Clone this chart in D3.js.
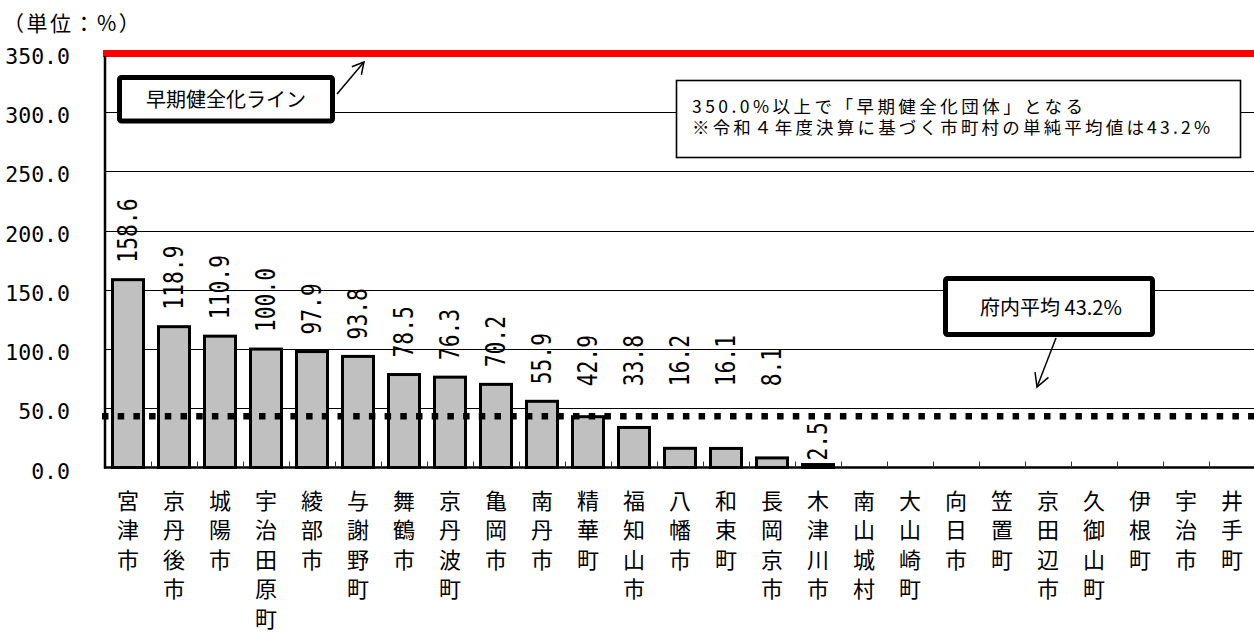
<!DOCTYPE html>
<html lang="ja">
<head>
<meta charset="utf-8">
<script src="https://cdn.jsdelivr.net/npm/d3@7"></script>
<style>
  html, body { margin: 0; padding: 0; background: #fff; }
  svg { display: block; }
</style>
</head>
<body>
<svg id="chart" width="1254" height="632"></svg>
<script>
// 将来負担比率（令和４年度決算）市町村別
const names = ["宮津市", "京丹後市", "城陽市", "宇治田原町", "綾部市", "与謝野町", "舞鶴市", "京丹波町", "亀岡市", "南丹市", "精華町", "福知山市", "八幡市", "和束町", "長岡京市", "木津川市", "南山城村", "大山崎町", "向日市", "笠置町", "京田辺市", "久御山町", "伊根町", "宇治市", "井手町"];
const values = [158.6, 118.9, 110.9, 100.0, 97.9, 93.8, 78.5, 76.3, 70.2, 55.9, 42.9, 33.8, 16.2, 16.1, 8.1, 2.5, 0, 0, 0, 0, 0, 0, 0, 0, 0];
const yTicks = [0, 50, 100, 150, 200, 250, 300, 350];
const earlyLine = 350;     // 早期健全化基準
const prefAverage = 43.2;  // 府内平均

const unitLabel = "（単位：%）";
const earlyLabel = "早期健全化ライン";
const noteLines = ["350.0%以上で「早期健全化団体」となる", "※令和４年度決算に基づく市町村の単純平均値は43.2%"];
const avgLabel = "府内平均 43.2%";

const svg = d3.select("#chart");
const plotLeft = 105, plotRight = 1255, plotTop = 53, plotBottom = 467.5;

const x = d3.scaleBand().domain(names).range([plotLeft, plotRight])
  .paddingInner(0.326).paddingOuter(0.163);
const y = d3.scaleLinear().domain([0, 350]).range([plotBottom, plotTop]);

// 目盛線
svg.append("g")
  .selectAll("line")
  .data(yTicks.filter(t => t > 0 && t < earlyLine))
  .join("line")
  .attr("x1", plotLeft).attr("x2", 1254)
  .attr("y1", d => Math.round(y(d)) + 0.5).attr("y2", d => Math.round(y(d)) + 0.5)
  .attr("stroke", "#000").attr("stroke-width", 1);

// Y軸ラベル
svg.append("g")
  .selectAll("text")
  .data(yTicks)
  .join("text")
  .attr("x", 70).attr("y", d => y(d) + 11)
  .attr("text-anchor", "end")
  .attr("font-family", "DejaVu Sans Mono")
  .attr("font-size", 21.5)
  .attr("fill", "#000")
  .text(d => d3.format(".1f")(d));

// 単位
svg.append("text")
  .attr("x", 3).attr("y", 31)
  .attr("font-family", "Noto Sans CJK JP")
  .attr("font-size", 21)
  .attr("letter-spacing", 2.5)
  .text(unitLabel);

const rows = names.map((n, i) => ({ name: n, value: values[i] })).filter(d => d.value > 0);

// 棒
svg.append("g")
  .selectAll("rect")
  .data(rows)
  .join("rect")
  .attr("x", d => x(d.name))
  .attr("y", d => y(d.value))
  .attr("width", x.bandwidth())
  .attr("height", d => plotBottom - y(d.value))
  .attr("fill", "#c0c0c0")
  .attr("stroke", "#000")
  .attr("stroke-width", 3);

// 府内平均（点線）
svg.append("line")
  .attr("x1", 102).attr("x2", 1254)
  .attr("y1", y(prefAverage)).attr("y2", y(prefAverage))
  .attr("stroke", "#000").attr("stroke-width", 6.5)
  .attr("stroke-dasharray", "6.5,9.2");

// 早期健全化ライン（赤線）
svg.append("line")
  .attr("x1", 103).attr("x2", 1254)
  .attr("y1", y(earlyLine) + 0.5).attr("y2", y(earlyLine) + 0.5)
  .attr("stroke", "#ff0000").attr("stroke-width", 7);

// 軸線
svg.append("line")
  .attr("x1", plotLeft).attr("x2", plotLeft)
  .attr("y1", y(earlyLine) + 3).attr("y2", plotBottom + 1)
  .attr("stroke", "#000").attr("stroke-width", 2.5);
svg.append("line")
  .attr("x1", plotLeft - 1).attr("x2", 1254)
  .attr("y1", plotBottom).attr("y2", plotBottom)
  .attr("stroke", "#000").attr("stroke-width", 2.5);

// X軸の目盛（区切り）
const step = x.step();
svg.append("g")
  .selectAll("line")
  .data(d3.range(1, names.length))
  .join("line")
  .attr("x1", i => Math.round(plotLeft + i * step) + 0.5)
  .attr("x2", i => Math.round(plotLeft + i * step) + 0.5)
  .attr("y1", plotBottom - 6).attr("y2", plotBottom)
  .attr("stroke", "#333").attr("stroke-width", 1);

// データラベル（縦書き数値）
const labelFloor = y(prefAverage) - 30;
svg.append("g")
  .selectAll("text")
  .data(rows)
  .join("text")
  .attr("transform", d => {
    const cx = x(d.name) + x.bandwidth() / 2;
    const base = d.value < 5 ? y(d.value) - 4 : Math.min(y(d.value) - 17, labelFloor);
    return `translate(${cx},${base}) rotate(-90) scale(0.82,1)`;
  })
  .attr("dy", "0.36em")
  .attr("font-family", "DejaVu Sans Mono")
  .attr("font-size", 26)
  .attr("fill", "#000")
  .text(d => d3.format(".1f")(d.value));

// X軸ラベル（縦書き）
const xl = svg.append("g")
  .selectAll("text")
  .data(names)
  .join("text")
  .attr("font-family", "Noto Sans CJK JP")
  .attr("font-size", 22)
  .attr("text-anchor", "middle")
  .attr("fill", "#000");
xl.each(function (d) {
  const cx = x(d) + x.bandwidth() / 2;
  d3.select(this).selectAll("tspan")
    .data(Array.from(d))
    .join("tspan")
    .attr("x", cx)
    .attr("y", (c, i) => 509 + i * 29.4)
    .text(c => c);
});

// 注記：早期健全化ライン
svg.append("rect")
  .attr("x", 119.5).attr("y", 77.5).attr("width", 213).attr("height", 43.5)
  .attr("rx", 2)
  .attr("fill", "#fff").attr("stroke", "#000").attr("stroke-width", 5);
svg.append("text")
  .attr("x", 226).attr("y", 107)
  .attr("text-anchor", "middle")
  .attr("font-family", "Noto Sans CJK JP")
  .attr("font-size", 20)
  .text(earlyLabel);

function arrow(x1, y1, x2, y2, head) {
  const a = Math.atan2(y2 - y1, x2 - x1);
  const g = svg.append("g").attr("stroke", "#000").attr("stroke-width", 1.5).attr("fill", "none");
  g.append("line").attr("x1", x1).attr("y1", y1).attr("x2", x2).attr("y2", y2);
  const spread = 0.5;
  g.append("polyline")
    .attr("points", [
      [x2 - head * Math.cos(a - spread), y2 - head * Math.sin(a - spread)],
      [x2, y2],
      [x2 - head * Math.cos(a + spread), y2 - head * Math.sin(a + spread)]
    ].map(p => p.join(",")).join(" "));
}
arrow(337, 94, 364, 62, 13);

// 注記：説明（2行）
svg.append("rect")
  .attr("x", 676.5).attr("y", 80.5).attr("width", 564).attr("height", 77)
  .attr("fill", "#fff").attr("stroke", "#000").attr("stroke-width", 1.6);
const noteWidths = [391, 518];
svg.append("text")
  .attr("font-family", "Noto Sans CJK JP")
  .attr("font-size", 17.5)
  .selectAll("tspan")
  .data(noteLines)
  .join("tspan")
  .attr("x", 692)
  .attr("y", (d, i) => 113 + i * 21)
  .attr("textLength", (d, i) => noteWidths[i])
  .attr("lengthAdjust", "spacing")
  .text(d => d);

// 注記：府内平均
svg.append("rect")
  .attr("x", 945.5).attr("y", 278.5).attr("width", 207).attr("height", 56)
  .attr("rx", 2)
  .attr("fill", "#fff").attr("stroke", "#000").attr("stroke-width", 5);
svg.append("text")
  .attr("x", 1051).attr("y", 315)
  .attr("text-anchor", "middle")
  .attr("font-family", "Noto Sans CJK JP")
  .attr("font-size", 20)
  .text(avgLabel);
arrow(1056, 338, 1037, 387, 15);
</script>
</body>
</html>
